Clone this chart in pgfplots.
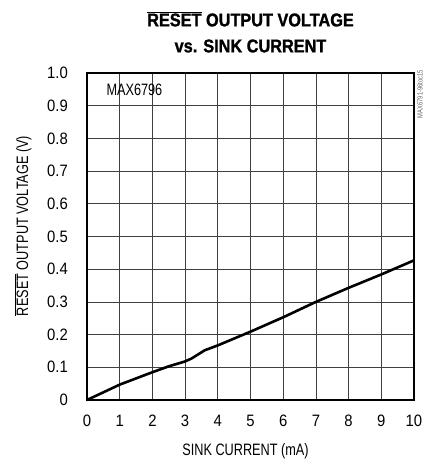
\documentclass[border=0pt]{standalone}
\usepackage{fontspec}
\usepackage{pgfplots}
\pgfplotsset{compat=1.18}
\setmainfont{Liberation Sans}
\newfontfamily\condfont[FakeStretch=0.77]{Liberation Sans}
\newfontfamily\tickfam[FakeStretch=0.9]{Liberation Sans}
\newfontfamily\titlefam[FakeStretch=0.88,FakeBold=1.2]{Liberation Sans Bold}
\newcommand\ovl[1]{$\overline{\hbox{#1}}$}
\begin{document}
\begin{tikzpicture}
\begin{axis}[
  at={(0,0)}, anchor=south west,
  scale only axis, width=327pt, height=327pt,
  xmin=0, xmax=10, ymin=0, ymax=1,
  xtick={0,1,...,10},
  ytick={0,0.1,0.2,0.3,0.4,0.5,0.6,0.7,0.8,0.9,1.0},
  xticklabels={0,1,2,3,4,5,6,7,8,9,10},
  yticklabels={0,0.1,0.2,0.3,0.4,0.5,0.6,0.7,0.8,0.9,1.0},
  major tick length=0pt,
  xticklabel style={anchor=center, yshift=-21pt, inner sep=0pt, font=\tickfam\fontsize{16.5}{18}\selectfont},
  yticklabel style={anchor=east, xshift=-19pt, inner sep=0pt, font=\tickfam\fontsize{16.5}{18}\selectfont},
  grid=major,
  major grid style={black!75, line width=0.7pt},
  axis line style={line width=2.2pt},
  clip=false,
]
\addplot[black, line width=2.6pt] coordinates {
  (0,0) (1,0.047) (2,0.085) (2.5,0.103) (3,0.118) (3.2,0.127) (3.6,0.152)
  (4,0.167) (5,0.209) (6,0.253) (7,0.300) (8,0.343) (9,0.384) (10,0.427)
};
\node[font=\condfont\fontsize{16.5}{18}\selectfont, inner sep=0pt] at (axis cs:1.45,0.949) {MAX6796};
\end{axis}
\node[font=\titlefam\fontsize{18.5}{20}\selectfont, inner sep=0pt] at (163.5pt,381pt) {\ovl{RESET} OUTPUT VOLTAGE};
\node[font=\titlefam\fontsize{18.5}{20}\selectfont, inner sep=0pt] at (163.5pt,354pt) {vs. SINK CURRENT};
\node[font=\condfont\fontsize{16.5}{18}\selectfont, inner sep=0pt, rotate=90] at (-64pt,174pt) {\ovl{RESET} OUTPUT VOLTAGE (V)};
\node[font=\condfont\fontsize{16.5}{18}\selectfont, inner sep=0pt] at (158.5pt,-51pt) {SINK CURRENT (mA)};
\node[font=\condfont\fontsize{7.5}{8}\selectfont, text=black!60, inner sep=0pt, rotate=90, anchor=east] at (333pt,330pt) {MAX6791-96toc15};
\pgfresetboundingbox
\useasboundingbox (-87pt,-59pt) rectangle (338pt,400pt);
\end{tikzpicture}
\end{document}
